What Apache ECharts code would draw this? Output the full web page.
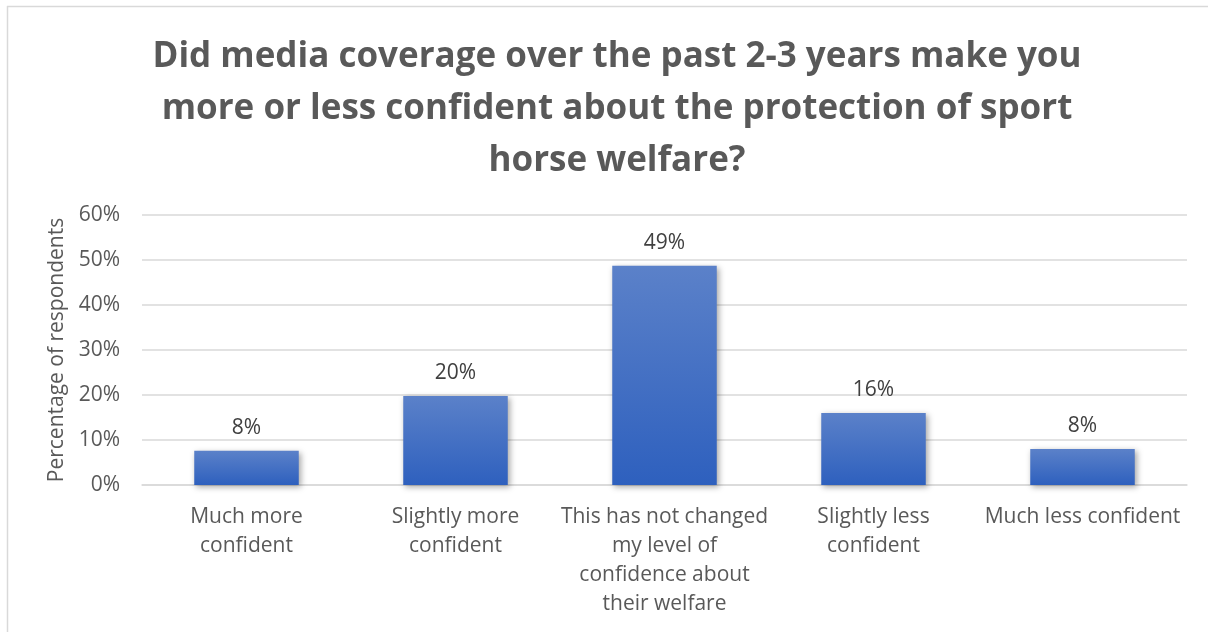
<!DOCTYPE html>
<html><head><meta charset="utf-8">
<script src="https://cdn.jsdelivr.net/npm/echarts@6/dist/echarts.min.js"></script>
<style>html,body{margin:0;padding:0;background:#fff}#c{width:1208px;height:632px}</style>
</head><body><div id="c"></div>
<script>
const titleText = "Did media coverage over the past 2-3 years make you\nmore or less confident about the protection of sport\nhorse welfare?";
const categories = ["Much more\nconfident", "Slightly more\nconfident", "This has not changed\nmy level of\nconfidence about\ntheir welfare", "Slightly less\nconfident", "Much less confident"];
const values = [7.6, 19.8, 48.7, 16.0, 8.0];
const yAxisName = "Percentage of respondents";
const yMin = 0, yMax = 60, yStep = 10;

const chart = echarts.init(document.getElementById('c'));
const font = "Open Sans, Liberation Sans, sans-serif";
chart.setOption({
  animation: false,
  title: {
    text: titleText, left: 612, top: 26, textAlign: 'center',
    textStyle: {fontFamily: font, fontSize: 35, fontWeight: 'bold', color: '#595959', lineHeight: 52}
  },
  graphic: [
    {type: 'line', shape: {x1: 7, y1: 6.5, x2: 1208, y2: 6.5}, style: {stroke: '#d9d9d9', lineWidth: 1.5}},
    {type: 'line', shape: {x1: 7.5, y1: 6, x2: 7.5, y2: 632}, style: {stroke: '#d9d9d9', lineWidth: 1.5}}
  ],
  grid: {left: 142, right: 21, top: 215, bottom: 147},
  xAxis: {
    type: 'category', data: categories,
    axisLine: {show: true, lineStyle: {color: '#d9d9d9', width: 1.5}},
    axisTick: {show: false},
    axisLabel: {fontFamily: font, fontSize: 21, color: '#595959', lineHeight: 29, margin: 18, interval: 0}
  },
  yAxis: {
    type: 'value', min: yMin, max: yMax, interval: yStep,
    name: yAxisName, nameLocation: 'middle', nameGap: 73,
    nameTextStyle: {fontFamily: font, fontSize: 21, color: '#595959'},
    axisLine: {show: false}, axisTick: {show: false},
    axisLabel: {fontFamily: font, fontSize: 21, color: '#595959', formatter: v => v + '%', margin: 22},
    splitLine: {lineStyle: {color: '#d9d9d9', width: 1.5}}
  },
  series: [{
    type: 'bar', data: values, barWidth: '50%',
    itemStyle: {
      color: new echarts.graphic.LinearGradient(0, 0, 0, 1, [{offset: 0, color: '#5b81c9'}, {offset: 1, color: '#2e60be'}]),
      shadowColor: 'rgba(0,0,0,0.35)', shadowBlur: 6, shadowOffsetX: 2, shadowOffsetY: 2
    },
    label: {show: true, position: 'top', distance: 12, fontFamily: font, fontSize: 21, color: '#404040',
      formatter: p => Math.round(p.value) + '%'}
  }]
});
</script></body></html>
